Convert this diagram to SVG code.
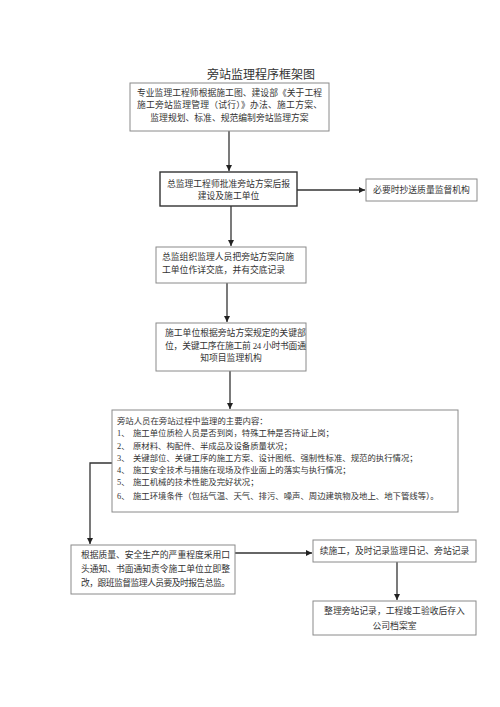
<svg xmlns="http://www.w3.org/2000/svg" width="500" height="707" viewBox="0 0 500 707">
<defs>
<marker id="arr" markerWidth="8" markerHeight="8" refX="6" refY="3" orient="auto" markerUnits="userSpaceOnUse">
<path d="M0,0 L6,3 L0,6 z" fill="#222"/>
</marker>
<style>
.box{fill:#fff;stroke:#8a8a8a;stroke-width:1}
.boxd{fill:#fff;stroke:#333;stroke-width:1.4}
.t{font-family:"Liberation Serif","Noto Sans CJK SC",serif;font-size:8.8px;fill:#333}
.m{font-family:"Liberation Serif","Noto Sans CJK SC",serif;font-size:8.4px;fill:#333}
.c{text-anchor:middle}
.ttl{font-family:"Liberation Serif","Noto Sans CJK SC",serif;font-size:12px;fill:#333;text-anchor:middle}
.ln{fill:none;stroke:#333;stroke-width:1.3}
</style>
</defs>
<rect width="500" height="707" fill="#fff"/>
<text class="ttl" x="261" y="79">旁站监理程序框架图</text>

<g id="connectors">
<line class="ln" x1="229" y1="131" x2="229" y2="171" marker-end="url(#arr)"/>
<line class="ln" x1="297" y1="190" x2="365" y2="190" marker-end="url(#arr)"/>
<line class="ln" x1="231" y1="206" x2="231" y2="246" marker-end="url(#arr)"/>
<line class="ln" x1="227" y1="283" x2="227" y2="322" marker-end="url(#arr)"/>
<line class="ln" x1="230" y1="371" x2="230" y2="409" marker-end="url(#arr)"/>
<polyline class="ln" points="112,463 90,463 90,544" marker-end="url(#arr)"/>
<line class="ln" x1="235" y1="553" x2="312" y2="553" marker-end="url(#arr)"/>
<line class="ln" x1="397" y1="562" x2="397" y2="600" marker-end="url(#arr)"/>
</g>

<g id="n1">
<rect class="box" x="130" y="83" width="199" height="48"/>
<text class="t" x="137" y="96" textLength="185">专业监理工程师根据施工图、建设部《关于工程</text>
<text class="t" x="137" y="108" textLength="185">施工旁站监理管理（试行）》办法、施工方案、</text>
<text class="t c" x="229.5" y="121">监理规划、标准、规范编制旁站监理方案</text>
</g>

<g id="n2">
<rect class="boxd" x="160" y="172" width="137" height="34"/>
<text class="t c" x="228.5" y="187">总监理工程师批准旁站方案后报</text>
<text class="t c" x="228.5" y="199">建设及施工单位</text>
</g>

<g id="n3">
<rect class="box" x="366" y="179" width="111" height="22"/>
<text class="t c" x="421.5" y="193">必要时抄送质量监督机构</text>
</g>

<g id="n4">
<rect class="box" x="156" y="247" width="150" height="36"/>
<text class="t" x="162" y="260">总监组织监理人员把旁站方案向施</text>
<text class="t" x="162" y="273">工单位作详交底，并有交底记录</text>
</g>

<g id="n5">
<rect class="box" x="156" y="323" width="150" height="48"/>
<text class="t" x="165" y="336">施工单位根据旁站方案规定的关键部</text>
<text class="t" x="165" y="349" textLength="141">位，关键工序在施工前 24 小时书面通</text>
<text class="t c" x="231" y="361">知项目监理机构</text>
</g>

<g id="n6">
<rect class="box" x="112" y="410" width="346" height="102"/>
<text class="m" x="117" y="424">旁站人员在旁站过程中监理的主要内容：</text>
<text class="m" x="117" y="436">1、<tspan x="133">施工单位质检人员是否到岗，特殊工种是否持证上岗；</tspan></text>
<text class="m" x="117" y="449">2、<tspan x="133">原材料、构配件、半成品及设备质量状况；</tspan></text>
<text class="m" x="117" y="461">3、<tspan x="133">关键部位、关键工序的施工方案、设计图纸、强制性标准、规范的执行情况；</tspan></text>
<text class="m" x="117" y="473">4、<tspan x="133">施工安全技术与措施在现场及作业面上的落实与执行情况；</tspan></text>
<text class="m" x="117" y="485">5、<tspan x="133">施工机械的技术性能及完好状况；</tspan></text>
<text class="m" x="117" y="499">6、<tspan x="133">施工环境条件（包括气温、天气、排污、噪声、周边建筑物及地上、地下管线等）。</tspan></text>
</g>

<g id="n7">
<rect class="box" x="71" y="545" width="164" height="49"/>
<text class="t" x="81" y="558" textLength="149">根据质量、安全生产的严重程度采用口</text>
<text class="t" x="81" y="572" textLength="149">头通知、书面通知责令施工单位立即整</text>
<text class="t" x="81" y="586" textLength="149">改，跟班监督监理人员要及时报告总监。</text>
</g>

<g id="n8">
<rect class="box" x="313" y="540" width="163" height="22"/>
<text class="t c" x="394.5" y="554">续施工，及时记录监理日记、旁站记录</text>
</g>

<g id="n9">
<rect class="box" x="313" y="601" width="163" height="34"/>
<text class="t c" x="394.5" y="614">整理旁站记录，工程竣工验收后存入</text>
<text class="t c" x="394.5" y="629">公司档案室</text>
</g>
</svg>
